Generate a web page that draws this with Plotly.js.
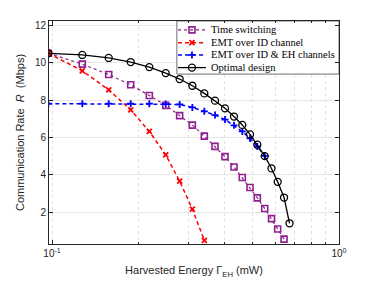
<!DOCTYPE html>
<html>
<head>
<meta charset="utf-8">
<script src="https://cdn.plot.ly/plotly-3.0.1.min.js"></script>
<style>html,body{margin:0;padding:0;background:#fff;}#chart{width:374px;height:281px;}</style>
</head>
<body>
<div id="chart"></div>
<script>
// Harvested energy (mW) and communication rate (Mbps) per scheme
const energyOpt = [0.0971, 0.1275, 0.1576, 0.1880, 0.2183, 0.2490, 0.2784, 0.3083, 0.3394, 0.3698, 0.4006, 0.4306, 0.4603, 0.4897, 0.5192, 0.5510, 0.5818, 0.6114, 0.6434, 0.6724];
const rateOpt = [10.52, 10.43, 10.27, 10.05, 9.78, 9.46, 9.14, 8.78, 8.37, 7.98, 7.57, 7.13, 6.68, 6.17, 5.62, 5.01, 4.35, 3.63, 2.79, 1.41];

const energyTS = [0.0971, 0.1275, 0.1576, 0.1880, 0.2183, 0.2490, 0.2784, 0.3083, 0.3394, 0.3698, 0.4006, 0.4306, 0.4603, 0.4897, 0.5192, 0.5510, 0.5818, 0.6114, 0.6434];
const rateTS = [10.52, 9.94, 9.38, 8.83, 8.26, 7.73, 7.18, 6.67, 6.08, 5.53, 4.98, 4.43, 3.86, 3.33, 2.77, 2.20, 1.66, 1.10, 0.56];

const energyEMT1 = [0.0971, 0.1275, 0.1576, 0.1880, 0.2183, 0.2490, 0.2784, 0.3083, 0.3394];
const rateEMT1 = [10.52, 9.58, 8.56, 7.49, 6.33, 5.08, 3.67, 2.17, 0.50];

const energyEMT2 = [0.0971, 0.1275, 0.1576, 0.1880, 0.2183, 0.2490, 0.2784, 0.3083, 0.3394, 0.3698, 0.4006, 0.4306, 0.4603, 0.4897, 0.5192, 0.5510];
const rateEMT2 = [7.82, 7.82, 7.82, 7.82, 7.82, 7.80, 7.78, 7.62, 7.41, 7.21, 6.97, 6.66, 6.33, 5.96, 5.53, 5.02];

const seriesNames = ["Time switching", "EMT over ID channel", "EMT over ID &amp; EH channels", "Optimal design"];
const xTickVals = [0.1, 1];
const xTickText = ["10<sup>-1</sup>", "10<sup>0</sup>"];
const xMinorVals = [0.2, 0.3, 0.4, 0.5, 0.6, 0.7, 0.8, 0.9];
const yTickVals = [2, 4, 6, 8, 10, 12];

// styles per series (same order as seriesNames)
const styles = [
  {line: {color: '#8e1f8e', width: 1.2, dash: 'dot'},
   marker: {symbol: 'square-open', size: 6, color: '#8e1f8e', line: {width: 1.6, color: '#8e1f8e'}}},
  {line: {color: '#ff0000', width: 1.5, dash: '4px,3px'},
   marker: {symbol: 'x-thin-open', size: 5, color: '#ff0000', line: {width: 1.8, color: '#ff0000'}}},
  {line: {color: '#0000ff', width: 1.5, dash: '4px,3px'},
   marker: {symbol: 'cross-thin-open', size: 5, color: '#0000ff', line: {width: 1.8, color: '#0000ff'}}},
  {line: {color: '#000000', width: 1.3},
   marker: {symbol: 'circle-open', size: 7, color: '#000000', line: {width: 1.3, color: '#000000'}}}
];
const xs = [energyTS, energyEMT1, energyEMT2, energyOpt];
const ys = [rateTS, rateEMT1, rateEMT2, rateOpt];

const traces = [];
for (let i = 0; i < 4; i++) {
  traces.push({x: xs[i], y: ys[i], name: seriesNames[i], type: 'scatter', mode: 'lines+markers',
    line: styles[i].line, marker: styles[i].marker, showlegend: false});
}

// custom compact legend drawn on an overlay axis with range [0,1]
const legBox = {x0: 0.441, x1: 1.0, y0: 0.762, y1: 1.0};
const legRows = [0.960, 0.903, 0.848, 0.791];
const legLine = [0.445, 0.541];
const legText = 0.551;
traces.push({x: [legBox.x0, legBox.x1, legBox.x1, legBox.x0, legBox.x0],
  y: [legBox.y0, legBox.y0, legBox.y1, legBox.y1, legBox.y0],
  xaxis: 'x2', yaxis: 'y2', type: 'scatter', mode: 'lines', fill: 'toself', fillcolor: '#ffffff',
  line: {color: '#6e6e6e', width: 1}, showlegend: false, hoverinfo: 'skip'});
const annotations = [];
for (let i = 0; i < 4; i++) {
  traces.push({x: legLine, y: [legRows[i], legRows[i]], xaxis: 'x2', yaxis: 'y2', type: 'scatter',
    mode: 'lines', line: styles[i].line, showlegend: false, hoverinfo: 'skip'});
  traces.push({x: [(legLine[0] + legLine[1]) / 2], y: [legRows[i]], xaxis: 'x2', yaxis: 'y2', type: 'scatter',
    mode: 'markers', marker: styles[i].marker, showlegend: false, hoverinfo: 'skip'});
  annotations.push({xref: 'paper', yref: 'paper', x: legText, y: legRows[i], xanchor: 'left', yanchor: 'middle',
    text: seriesNames[i], showarrow: false,
    font: {family: 'Liberation Serif, Times New Roman, serif', size: 10.5, color: '#000000'}});
}

const axisFont = {family: 'Liberation Sans, Arial, sans-serif', size: 10, color: '#262626'};
const titleFont = {family: 'Liberation Sans, Arial, sans-serif', size: 11, color: '#262626'};

const layout = {
  width: 374, height: 281,
  margin: {l: 49, r: 35, t: 21, b: 37, pad: 0},
  paper_bgcolor: '#ffffff', plot_bgcolor: '#ffffff',
  showlegend: false,
  annotations: annotations,
  xaxis: {type: 'log', range: [Math.log10(0.0976), 0],
    tickmode: 'array', tickvals: xTickVals, ticktext: xTickText,
    ticks: 'inside', ticklen: 4, tickcolor: '#262626',
    showline: true, linecolor: '#262626', linewidth: 1, mirror: 'ticks',
    showgrid: true, gridcolor: '#e3e3e3', griddash: 'dot', gridwidth: 1,
    zeroline: false, tickfont: axisFont,
    minor: {tickmode: 'array', tickvals: xMinorVals, ticks: 'inside', ticklen: 2, tickcolor: '#262626',
      showgrid: true, gridcolor: '#e0e0e0', griddash: 'dot', gridwidth: 1},
    title: {text: 'Harvested Energy Γ<sub>EH</sub> (mW)', font: titleFont, standoff: 8}
  },
  yaxis: {range: [0.3, 12.25],
    tickmode: 'array', tickvals: yTickVals,
    ticks: 'inside', ticklen: 4, tickcolor: '#262626',
    showline: true, linecolor: '#262626', linewidth: 1, mirror: 'ticks',
    showgrid: true, gridcolor: '#e6e6e6', gridwidth: 1,
    zeroline: false, tickfont: axisFont,
    title: {text: 'Communication Rate  <i>R</i>  (Mbps)', font: titleFont, standoff: 8}
  },
  xaxis2: {overlaying: 'x', range: [0, 1], visible: false, fixedrange: true},
  yaxis2: {overlaying: 'y', range: [0, 1], visible: false, fixedrange: true}
};

Plotly.newPlot('chart', traces, layout, {displayModeBar: false, staticPlot: true});
</script>
</body>
</html>
